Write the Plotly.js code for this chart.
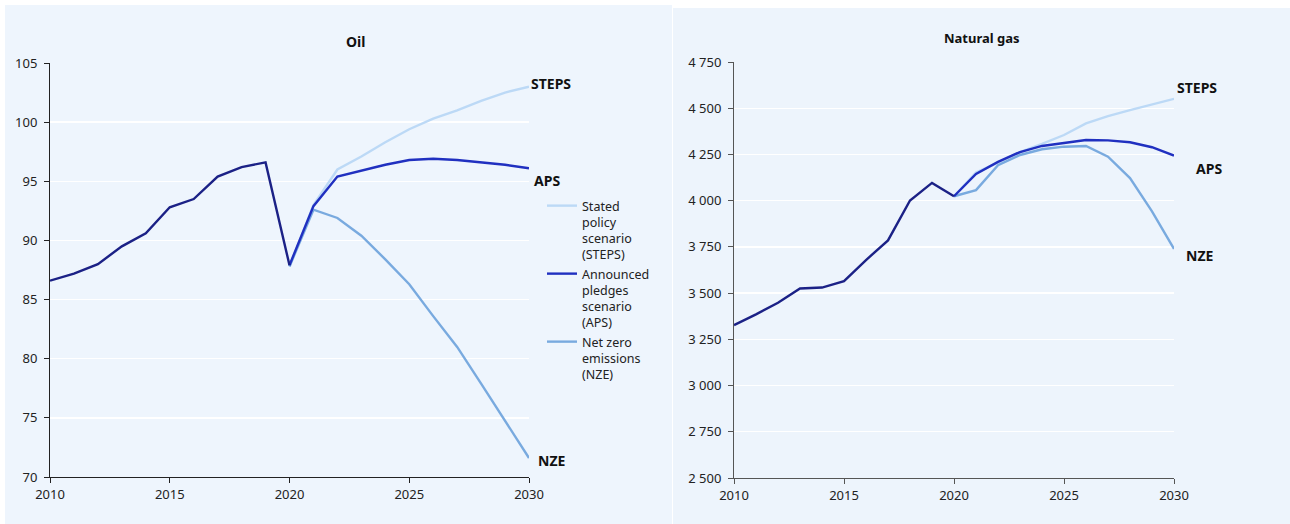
<!DOCTYPE html>
<html>
<head>
<meta charset="utf-8">
<script src="https://cdn.plot.ly/plotly-3.0.1.min.js"></script>
<style>html,body{margin:0;padding:0;background:#fff;}#chart{width:1290px;height:524px;}</style>
</head>
<body>
<div id="chart"></div>
<script>
// ---- data ----
const histYears = [2010, 2011, 2012, 2013, 2014, 2015, 2016, 2017, 2018, 2019, 2020];
const scenYears = [2020, 2021, 2022, 2023, 2024, 2025, 2026, 2027, 2028, 2029, 2030];

const oilHist  = [86.6, 87.2, 88.0, 89.5, 90.6, 92.8, 93.5, 95.4, 96.2, 96.6, 87.9];
const oilSTEPS = [87.8, 93.0, 96.0, 97.1, 98.3, 99.4, 100.3, 101.0, 101.8, 102.5, 103.0];
const oilAPS   = [87.9, 92.9, 95.4, 95.9, 96.4, 96.8, 96.9, 96.8, 96.6, 96.4, 96.1];
const oilNZE   = [87.8, 92.6, 91.9, 90.4, 88.4, 86.3, 83.6, 81.0, 77.9, 74.8, 71.6];

const gasHist  = [3327, 3385, 3448, 3525, 3530, 3565, 3679, 3785, 4001, 4096, 4024];
const gasSTEPS = [4024, 4152, 4206, 4263, 4307, 4355, 4418, 4457, 4490, 4520, 4551];
const gasAPS   = [4024, 4145, 4210, 4263, 4296, 4314, 4328, 4326, 4316, 4289, 4244];
const gasNZE   = [4024, 4057, 4192, 4247, 4278, 4292, 4296, 4238, 4122, 3942, 3739];

const seriesNames = ['Stated<br>policy<br>scenario<br>(STEPS)', 'Announced<br>pledges<br>scenario<br>(APS)', 'Net zero<br>emissions<br>(NZE)'];
const endLabels = ['STEPS', 'APS', 'NZE'];
const panelTitles = ['Oil', 'Natural gas'];

// ---- styles ----
const cHist = '#1b2186', cSTEPS = '#bcd9f6', cAPS = '#2030c0', cNZE = '#79aadf';
const W = 2.4;
const font = 'Noto Sans, Open Sans, sans-serif';

function tr(x, y, color, xa, ya, name, show, rank) {
  return {x: x, y: y, type: 'scatter', mode: 'lines', xaxis: xa, yaxis: ya,
    line: {color: color, width: W}, name: name || '', showlegend: !!show,
    legendrank: rank || 1000, hoverinfo: 'skip'};
}

const data = [
  tr(scenYears, oilSTEPS, cSTEPS, 'x', 'y', seriesNames[0], true, 1),
  tr(scenYears, oilNZE, cNZE, 'x', 'y', seriesNames[2], true, 3),
  tr(scenYears, oilAPS, cAPS, 'x', 'y', seriesNames[1], true, 2),
  tr(histYears, oilHist, cHist, 'x', 'y'),
  tr(scenYears, gasSTEPS, cSTEPS, 'x2', 'y2'),
  tr(scenYears, gasNZE, cNZE, 'x2', 'y2'),
  tr(scenYears, gasAPS, cAPS, 'x2', 'y2'),
  tr(histYears, gasHist, cHist, 'x2', 'y2')
];

const axisCommon = {
  showline: true, linecolor: '#222', linewidth: 1,
  ticks: 'outside', ticklen: 5, tickcolor: '#222', tickwidth: 1,
  tickfont: {family: font, size: 13, color: '#222'},
  zeroline: false, automargin: false, fixedrange: true
};

const layout = {
  width: 1290, height: 524,
  margin: {l: 0, r: 0, t: 0, b: 0},
  paper_bgcolor: '#ffffff', plot_bgcolor: 'rgba(0,0,0,0)',
  separators: '. ',
  font: {family: font, color: '#222'},
  showlegend: true,
  legend: {x: 542/1290, y: 1 - 191/524, xanchor: 'left', yanchor: 'top',
    bgcolor: 'rgba(0,0,0,0)', valign: 'top', tracegroupgap: 2,
    font: {family: font, size: 12.5, color: '#222'}, itemwidth: 30},
  xaxis: Object.assign({}, axisCommon, {domain: [50/1290, 529/1290], range: [2010, 2030],
    tickvals: [2010, 2015, 2020, 2025, 2030], showgrid: false, anchor: 'y'}),
  yaxis: Object.assign({}, axisCommon, {domain: [47/524, 461/524], range: [70, 105],
    dtick: 5, tick0: 70, showgrid: true, gridcolor: '#ffffff', gridwidth: 1.3, anchor: 'x', ticklabelstandoff: 4}),
  xaxis2: Object.assign({}, axisCommon, {domain: [734/1290, 1174/1290], range: [2010, 2030],
    tickvals: [2010, 2015, 2020, 2025, 2030], showgrid: false, anchor: 'y2', linecolor: '#555', tickcolor: '#555'}),
  yaxis2: Object.assign({}, axisCommon, {domain: [46/524, 462/524], range: [2500, 4750],
    dtick: 250, tick0: 2500, tickformat: ',d', showgrid: true, gridcolor: '#ffffff', gridwidth: 1.3, anchor: 'x2',
    linecolor: '#555', tickcolor: '#555', ticklabelstandoff: 4}),
  shapes: [
    {type: 'rect', xref: 'paper', yref: 'paper', x0: 5/1290, x1: 672/1290, y0: 0, y1: 1 - 5/524,
      fillcolor: '#eef5fd', line: {width: 0}, layer: 'below'},
    {type: 'rect', xref: 'paper', yref: 'paper', x0: 673/1290, x1: 1, y0: 0, y1: 1 - 8/524,
      fillcolor: '#edf4fc', line: {width: 0}, layer: 'below'}
  ],
  annotations: [
    {text: '<b>' + panelTitles[0] + '</b>', xref: 'paper', yref: 'paper', x: 355/1290, y: 1 - 42/524,
      showarrow: false, font: {family: font, size: 14, color: '#111'}, xanchor: 'center', yanchor: 'middle'},
    {text: '<b>' + panelTitles[1] + '</b>', xref: 'paper', yref: 'paper', x: 982/1290, y: 1 - 38/524,
      showarrow: false, font: {family: font, size: 13, color: '#111'}, xanchor: 'center', yanchor: 'middle'},
    {text: '<b>' + endLabels[0] + '</b>', xref: 'x', yref: 'y', x: 2030, y: 103.3, xanchor: 'left', xshift: 0,
      showarrow: false, font: {family: font, size: 14, color: '#111'}},
    {text: '<b>' + endLabels[1] + '</b>', xref: 'x', yref: 'y', x: 2030, y: 95.05, xanchor: 'left', xshift: 3,
      showarrow: false, font: {family: font, size: 14, color: '#111'}},
    {text: '<b>' + endLabels[2] + '</b>', xref: 'x', yref: 'y', x: 2030, y: 71.4, xanchor: 'left', xshift: 7,
      showarrow: false, font: {family: font, size: 14, color: '#111'}},
    {text: '<b>' + endLabels[0] + '</b>', xref: 'x2', yref: 'y2', x: 2030, y: 4610, xanchor: 'left', xshift: 1,
      showarrow: false, font: {family: font, size: 14, color: '#111'}},
    {text: '<b>' + endLabels[1] + '</b>', xref: 'x2', yref: 'y2', x: 2030, y: 4172, xanchor: 'left', xshift: 20,
      showarrow: false, font: {family: font, size: 14, color: '#111'}},
    {text: '<b>' + endLabels[2] + '</b>', xref: 'x2', yref: 'y2', x: 2030, y: 3702, xanchor: 'left', xshift: 10,
      showarrow: false, font: {family: font, size: 14, color: '#111'}}
  ]
};

Plotly.newPlot('chart', data, layout, {displayModeBar: false, staticPlot: true});
</script>
</body>
</html>
